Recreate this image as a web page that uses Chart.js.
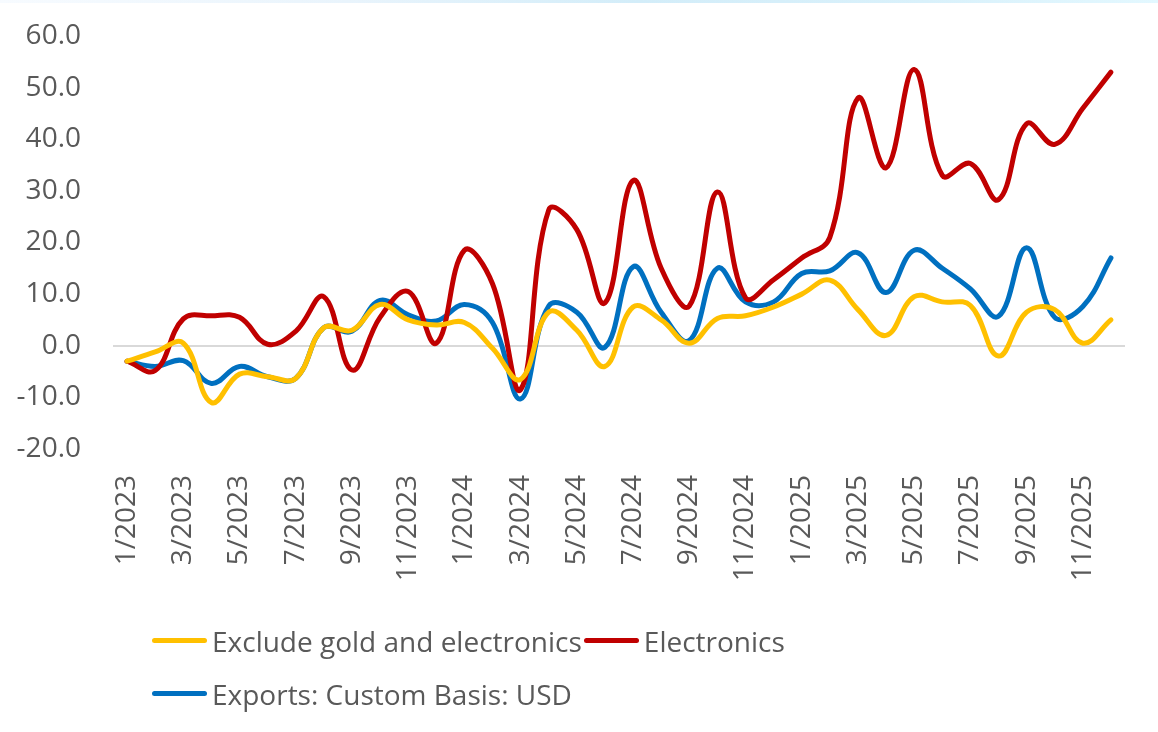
<!DOCTYPE html>
<html>
<head>
<meta charset="utf-8">
<script src="https://cdn.jsdelivr.net/npm/chart.js@4.4.1/dist/chart.umd.min.js"></script>
<style>
  html, body { margin: 0; padding: 0; background: #ffffff; }
  #wrap { position: relative; width: 1158px; height: 732px; overflow: hidden; background: #ffffff; }
  #topband { position: absolute; left: 0; top: 0; width: 1158px; height: 3px;
    background: linear-gradient(90deg, #f7fbff 0%, #e9f4fc 30%, #d3edf9 55%, #d9f1fb 80%, #e3f8ff 100%); }
  #chart { position: absolute; left: 0; top: 0; }
  #legend { position: absolute; left: 152px; top: 614px; width: 700px;
    font-family: "Open Sans", sans-serif; font-size: 28px; color: #595959; }
  .row { display: flex; align-items: center; height: 53px; }
  .item { display: flex; align-items: center; margin-right: 2px; white-space: nowrap; }
  .swatch { width: 55px; height: 5px; border-radius: 3px; margin-right: 5px; }
</style>
</head>
<body>
<div id="wrap">
  <div id="topband"></div>
  <canvas id="chart" width="1158" height="732"></canvas>
  <div id="legend"></div>
</div>
<script>
// Monthly categories, 1/2023 .. 12/2025
const months = [
  '1/2023','2/2023','3/2023','4/2023','5/2023','6/2023','7/2023','8/2023','9/2023','10/2023','11/2023','12/2023',
  '1/2024','2/2024','3/2024','4/2024','5/2024','6/2024','7/2024','8/2024','9/2024','10/2024','11/2024','12/2024',
  '1/2025','2/2025','3/2025','4/2025','5/2025','6/2025','7/2025','8/2025','9/2025','10/2025','11/2025','12/2025'
];

// Year-on-year growth, %
const excludeGoldElectronics = [
  -3.0, -1.2, 0.5, -11.0, -5.5, -6.0, -6.3, 3.5, 3.0, 8.0, 5.0, 4.0,
  4.5, -0.5, -6.5, 6.5, 3.0, -4.0, 7.5, 5.0, 0.5, 5.3, 5.8, 7.5,
  10.0, 12.7, 7.0, 2.0, 9.5, 8.5, 7.8, -2.0, 6.5, 7.0, 0.5, 5.0
];
const electronics = [
  -3.0, -4.8, 5.2, 5.8, 5.5, 0.3, 2.8, 9.5, -4.7, 5.5, 10.5, 0.5,
  18.5, 12.0, -8.5, 26.3, 22.5, 8.3, 32.0, 15.0, 7.7, 29.8, 9.3, 12.8,
  17.0, 21.0, 48.0, 34.5, 53.5, 33.0, 35.3, 28.3, 43.0, 39.0, 46.0, 53.0
];
const exportsUSD = [
  -3.0, -4.0, -2.9, -7.3, -4.0, -6.0, -6.3, 3.5, 2.8, 8.8, 6.0, 4.8,
  8.0, 4.5, -10.3, 7.7, 6.5, -0.3, 15.3, 6.5, 1.0, 15.0, 8.5, 8.5,
  14.0, 14.5, 18.0, 10.3, 18.5, 15.0, 11.0, 5.7, 19.0, 5.5, 7.6, 17.0
];

const seriesNames = ['Exclude gold and electronics', 'Electronics', 'Exports: Custom Basis: USD'];
const seriesColors = ['#FFC000', '#C00000', '#0070C0'];
const yTicks = { min: -20, max: 60, step: 10 };

const textColor = '#595959';
const fontFamily = '"Open Sans", sans-serif';

function lineSet(label, data, color) {
  return {
    label, data,
    borderColor: color,
    backgroundColor: color,
    borderWidth: 5,
    pointRadius: 0,
    pointHoverRadius: 0,
    tension: 0.4,
    borderCapStyle: 'round',
    borderJoinStyle: 'round',
    fill: false
  };
}

const chart = new Chart(document.getElementById('chart'), {
  type: 'line',
  data: {
    labels: months,
    datasets: [
      lineSet(seriesNames[0], excludeGoldElectronics, seriesColors[0]),
      lineSet(seriesNames[1], electronics, seriesColors[1]),
      lineSet(seriesNames[2], exportsUSD, seriesColors[2])
    ]
  },
  options: {
    responsive: false,
    animation: false,
    layout: { padding: { top: 36, right: 33, bottom: 133, left: 0 } },
    plugins: {
      legend: { display: false },
      tooltip: { enabled: false }
    },
    scales: {
      x: {
        offset: true,
        grid: { display: false },
        border: { display: false },
        ticks: {
          autoSkip: false,
          maxRotation: 90,
          minRotation: 90,
          padding: 18,
          color: textColor,
          font: { family: fontFamily, size: 28 },
          callback: (v, i) => (i % 2 === 0 ? months[i] : '')
        },
        afterFit: s => { s.height = 150; s.paddingLeft = 0; s.paddingRight = 0; }
      },
      y: {
        min: yTicks.min,
        max: yTicks.max,
        border: { display: false },
        grid: {
          drawTicks: false,
          lineWidth: 2,
          color: c => (c.tick && c.tick.value === 0 ? '#D9D9D9' : 'rgba(0,0,0,0)')
        },
        ticks: {
          stepSize: yTicks.step,
          padding: 32,
          color: textColor,
          font: { family: fontFamily, size: 28 },
          callback: v => Number(v).toFixed(1)
        },
        afterFit: s => { s.width = 113; s.paddingTop = 0; s.paddingBottom = 0; }
      }
    }
  }
});

// Legend built from the chart's own legend items
(function buildLegend() {
  const items = Chart.defaults.plugins.legend.labels.generateLabels(chart);
  const box = document.getElementById('legend');
  const rows = [[items[0], items[1]], [items[2]]];
  rows.forEach(r => {
    const row = document.createElement('div');
    row.className = 'row';
    r.forEach(it => {
      const el = document.createElement('div');
      el.className = 'item';
      const sw = document.createElement('span');
      sw.className = 'swatch';
      sw.style.background = it.strokeStyle;
      const tx = document.createElement('span');
      tx.textContent = it.text;
      el.appendChild(sw);
      el.appendChild(tx);
      row.appendChild(el);
    });
    box.appendChild(row);
  });
})();
</script>
</body>
</html>
